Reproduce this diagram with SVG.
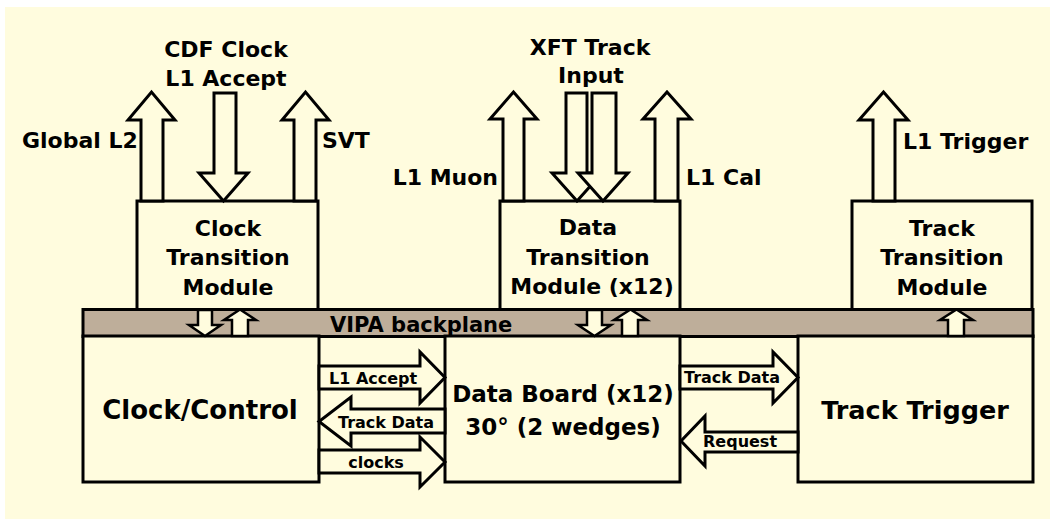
<svg xmlns="http://www.w3.org/2000/svg" width="1050" height="519" viewBox="0 0 1050 519">
  <style>
    .box { fill: #FFFCDE; stroke: #000; stroke-width: 3; }
    .plane { fill: #BEAE9A; stroke: #000; stroke-width: 3; }
    .arr { fill: #FFFCDE; stroke: #000; stroke-width: 3; stroke-linejoin: miter; }
    .sarr { fill: #FFFCDE; stroke: #000; stroke-width: 2.5; stroke-linejoin: miter; }
    text { font-family: "DejaVu Sans", "Liberation Sans", sans-serif; font-weight: bold; fill: #000; }
    .lbl { font-size: 22px; }
    .mid { text-anchor: middle; }
    .big { font-size: 26px; }
    .sm { font-size: 16px; }
  </style>

  <!-- page background -->
  <rect x="5" y="7" width="1045" height="512" fill="#FFFCDE"/>

  <!-- transition modules above the backplane -->
  <g id="clock-transition-module">
    <rect class="box" x="137" y="201" width="181" height="110"/>
    <text class="lbl mid" x="228" y="236">Clock</text>
    <text class="lbl mid" x="228" y="265">Transition</text>
    <text class="lbl mid" x="228" y="295">Module</text>
  </g>
  <g id="data-transition-module">
    <rect class="box" x="500" y="201" width="180" height="110"/>
    <text class="lbl mid" x="588" y="235">Data</text>
    <text class="lbl mid" x="588" y="265">Transition</text>
    <text class="lbl mid" x="592" y="294">Module (x12)</text>
  </g>
  <g id="track-transition-module">
    <rect class="box" x="852" y="201" width="180" height="110"/>
    <text class="lbl mid" x="942" y="236">Track</text>
    <text class="lbl mid" x="942" y="265">Transition</text>
    <text class="lbl mid" x="942" y="295">Module</text>
  </g>

  <!-- VIPA backplane -->
  <g id="vipa-backplane">
    <rect class="plane" x="83" y="309.5" width="950" height="27"/>
    <text x="330" y="332" style="font-size:21px">VIPA backplane</text>
  </g>

  <!-- boards below the backplane -->
  <g id="clock-control">
    <rect class="box" x="83" y="336" width="236" height="146"/>
    <text class="big mid" x="200" y="419">Clock/Control</text>
  </g>
  <g id="data-board">
    <rect class="box" x="445" y="336" width="235" height="146"/>
    <text class="mid" x="563" y="402" style="font-size:23px">Data Board (x12)</text>
    <text class="mid" x="563" y="435" style="font-size:23px">30° (2 wedges)</text>
  </g>
  <g id="track-trigger">
    <rect class="box" x="798" y="336" width="235" height="146"/>
    <text class="mid" x="915" y="419" style="font-size:25.5px">Track Trigger</text>
  </g>

  <g id="connectors">
    <!-- external links of the clock transition module -->
    <polygon class="arr" points="141,201 141,120 128,120 151.5,92 175,120 163,120 163,201"/>
    <polygon class="arr" points="294,201 294,120 282,120 305.5,92 329,120 316,120 316,201"/>
    <polygon class="arr" points="214,93 236,93 236,173 248,173 223.5,201 199,173 214,173"/>
    <!-- external links of the data transition module -->
    <polygon class="arr" points="503,201 503,119 490,119 513.5,92 537,119 524,119 524,201"/>
    <polygon class="arr" points="655,201 655,119 643,119 667,92 691,119 678,119 678,201"/>
    <polygon class="arr" points="566,93 587,93 587,173 602,173 577,201 552,173 566,173"/>
    <polygon class="arr" points="592,93 616,93 616,173 628,173 603,201 578,173 592,173"/>
    <!-- L1 trigger output -->
    <polygon class="arr" points="873,201 873,120 859,120 883.5,92 908,120 895,120 895,201"/>

    <!-- backplane crossings -->
    <polygon class="sarr" points="198,310 212,310 212,325 221,325 205,336 189,325 198,325"/>
    <polygon class="sarr" points="232,336 232,320 224,320 240,309.5 256,320 248,320 248,336"/>
    <polygon class="sarr" points="587,310 602,310 602,325 611,325 594.5,336 578,325 587,325"/>
    <polygon class="sarr" points="622,336 622,320 614,320 630.5,309.5 647,320 638,320 638,336"/>
    <polygon class="sarr" points="948,336 948,320 940,320 956.5,309.5 973,320 964,320 964,336"/>

    <!-- clock/control <-> data board -->
    <polygon class="arr" points="319,366 420,366 420,352 445,377.5 420,403 420,389 319,389"/>
    <polygon class="arr" points="445,409 351,409 351,397 319,421.5 351,446 351,433 445,433"/>
    <polygon class="arr" points="319,450 420,450 420,437 445,462 420,487 420,473 319,473"/>
    <!-- data board <-> track trigger -->
    <polygon class="arr" points="680,366 773,366 773,352 798,377.5 773,403 773,389 680,389"/>
    <polygon class="arr" points="798,432 705,432 705,416 681,441 705,466 705,452 798,452"/>
  </g>

  <!-- connector labels -->
  <g id="labels">
    <text class="lbl mid" x="226" y="57">CDF Clock</text>
    <text class="lbl mid" x="226" y="86">L1 Accept</text>
    <text class="lbl" x="22" y="148">Global L2</text>
    <text class="lbl" x="322" y="148">SVT</text>
    <text class="lbl mid" x="590" y="55">XFT Track</text>
    <text class="lbl mid" x="591" y="83">Input</text>
    <text class="lbl" x="498" y="185" text-anchor="end">L1 Muon</text>
    <text class="lbl" x="686" y="185">L1 Cal</text>
    <text class="lbl" x="903" y="149">L1 Trigger</text>
    <text class="sm" x="329" y="384">L1 Accept</text>
    <text class="sm" x="338" y="428">Track Data</text>
    <text class="sm mid" x="376" y="468">clocks</text>
    <text class="sm" x="684" y="383">Track Data</text>
    <text class="sm" x="703" y="447">Request</text>
  </g>
</svg>
